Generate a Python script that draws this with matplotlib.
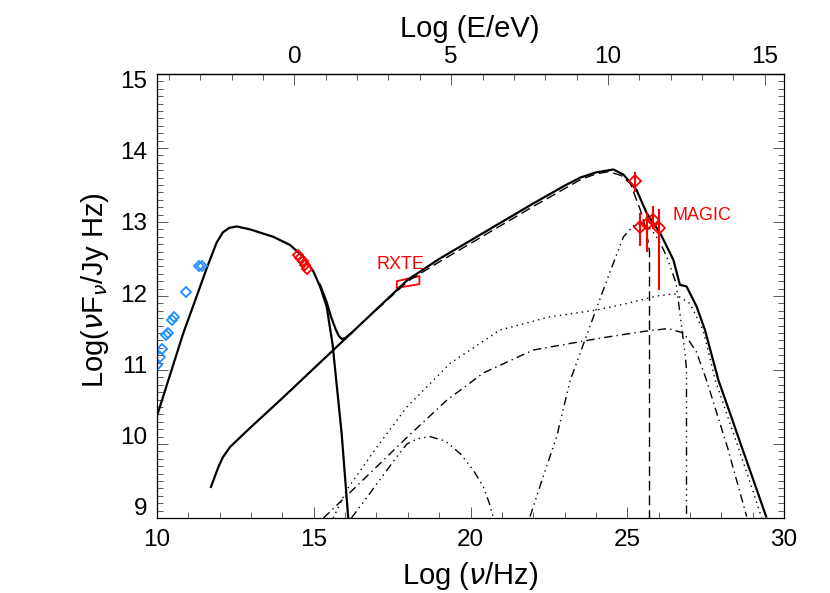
import matplotlib
matplotlib.use('Agg')
import matplotlib.pyplot as plt
import matplotlib.transforms as mtransforms
from matplotlib.ticker import MultipleLocator, FixedLocator

plt.rcParams['font.family'] = ['Liberation Sans', 'DejaVu Sans']

# log(h / eV s): Log(E/eV) = Log(nu/Hz) - 14.383
LOG_H = 14.383

## 模型曲线
# 同步辐射
sync_x = [10.0, 10.36, 10.84, 11.26, 11.59, 11.9, 12.1, 12.3, 12.54, 12.97, 13.71,
          14.24, 14.67, 14.99, 15.2, 15.41, 15.6, 15.89, 16.1]
sync_y = [10.38, 10.86, 11.5, 11.99, 12.38, 12.72, 12.86, 12.92, 12.94, 12.9, 12.8,
          12.69, 12.53, 12.33, 12.13, 11.86, 11.35, 10.14, 9.0]

# 总谱在 10^16 Hz 附近的凹陷
dip_x = [15.2, 15.41, 15.55, 15.7, 15.8, 15.89, 16.0, 16.2]
dip_y = [12.15, 11.92, 11.72, 11.55, 11.46, 11.42, 11.43, 11.5]

# 高能总谱
hi_x = [11.72, 11.96, 12.1, 12.33, 13.0, 14.0, 15.0, 16.0, 17.0, 18.0, 19.0,
        20.0, 21.0, 22.0, 23.0, 23.5, 24.0, 24.56, 24.88, 25.3, 25.62, 26.05,
        26.47, 26.68, 26.89, 27.21, 27.48, 27.91, 28.3, 28.66, 29.05, 29.43]
hi_y = [9.42, 9.69, 9.82, 9.96, 10.23, 10.62, 11.02, 11.42, 11.82, 12.22, 12.5,
        12.75, 13.0, 13.25, 13.49, 13.6, 13.67, 13.71, 13.64, 13.43, 13.12, 12.85,
        12.49, 12.15, 12.13, 11.86, 11.54, 10.86, 10.39, 9.95, 9.48, 9.02]

# 虚线分量
dash_x = [17.0, 18.0, 19.0, 20.0, 21.0, 22.0, 23.0, 23.5, 24.0, 24.4, 24.8,
          25.1, 25.42, 25.57, 25.66, 25.71, 25.71]
dash_y = [11.81, 12.2, 12.46, 12.71, 12.96, 13.21, 13.45, 13.57, 13.65, 13.68,
          13.63, 13.52, 13.16, 12.94, 12.75, 12.6, 8.9]

# 点线分量
dot_x = [15.62, 16.05, 17.0, 17.97, 19.35, 20.94, 22.54, 24.02, 25.0, 25.94,
         26.5, 27.0, 27.42, 27.81, 28.3, 28.8, 29.29]
dot_y = [9.0, 9.38, 9.95, 10.5, 11.09, 11.54, 11.72, 11.81, 11.9, 12.0,
         12.03, 11.9, 11.54, 10.86, 10.25, 9.63, 9.0]

# 点划线分量
dd_x = [15.31, 16.0, 17.0, 18.0, 19.24, 20.41, 22.0, 24.13, 25.5, 26.3, 26.8,
        27.2, 27.53, 28.2, 28.81]
dd_y = [9.0, 9.28, 9.69, 10.1, 10.59, 10.96, 11.27, 11.43, 11.52, 11.56, 11.5,
        11.25, 10.86, 9.95, 9.02]

# 三点划线分量
mu_x = [21.9, 22.35, 22.75, 23.18, 23.81, 24.4, 24.88, 25.2, 25.5, 25.8,
        26.05, 26.26, 26.56, 26.7, 26.85, 26.89, 26.89]
mu_y = [9.02, 9.6, 10.1, 10.86, 11.59, 12.27, 12.8, 12.95, 12.98, 12.88,
        12.72, 12.53, 12.17, 11.7, 11.2, 11.0, 8.9]

# X 射线处的小鼓包
bump_x = [16.2, 16.7, 17.2, 17.6, 17.97, 18.3, 18.71, 19.2, 19.67, 20.1,
          20.41, 20.6, 20.73]
bump_y = [9.0, 9.28, 9.57, 9.8, 10.0, 10.07, 10.1, 10.04, 9.87, 9.64,
          9.42, 9.2, 9.0]

## 观测数据
radio_x = [10.0, 10.08, 10.15, 10.3, 10.36, 10.48, 10.55, 10.92, 11.33, 11.45]
radio_y = [11.07, 11.17, 11.28, 11.47, 11.5, 11.68, 11.72, 12.05, 12.41, 12.40]

opt_x = [14.5, 14.57, 14.65, 14.72, 14.8]
opt_y = [12.55, 12.51, 12.47, 12.42, 12.37]

# RXTE 蝴蝶图 (左右两端的上下限)
rxte_x = [17.65, 18.37]
rxte_lo = [12.11, 12.16]
rxte_hi = [12.2, 12.27]

other_x = [25.25]
other_y = [13.56]
other_lo = [13.41]
other_hi = [13.67]

magic_x = [25.42, 25.62, 25.83, 26.0]
magic_y = [12.93, 12.97, 13.03, 12.92]
magic_lo = [12.67, 12.6, 12.9, 12.08]
magic_hi = [13.12, 13.14, 13.22, 13.18]

# 刻度
x_ticks = [10, 15, 20, 25, 30]
y_ticks = [9, 10, 11, 12, 13, 14, 15]
e_ticks = [0, 5, 10, 15]

blue = '#1e8fff'
red = '#ff0000'

# 开始画图
fig = plt.figure(figsize=(8.3, 5.93), dpi=100)
ax = fig.add_axes([157 / 830, 75 / 593, 627 / 830, 444 / 593])

# 模型分量
ax.plot(dash_x, dash_y, color='k', lw=1.0, linestyle=(0, (7, 3.5)))
ax.plot(dot_x, dot_y, color='k', lw=1.0, linestyle=(0, (1, 3)))
ax.plot(dd_x, dd_y, color='k', lw=1.0, linestyle=(0, (6, 3, 1, 3)))
ax.plot(mu_x, mu_y, color='k', lw=1.0, linestyle=(0, (6, 3, 1, 3, 1, 3, 1, 3)))
ax.plot(bump_x, bump_y, color='k', lw=1.0, linestyle=(0, (6, 3, 1, 3, 1, 3, 1, 3)))

# 总谱
ax.plot(sync_x, sync_y, color='k', lw=1.6)
ax.plot(dip_x, dip_y, color='k', lw=1.6)
ax.plot(hi_x, hi_y, color='k', lw=1.6)

# 数据点
ax.plot(radio_x, radio_y, 'D', ms=5.5, mfc='none', mec=blue, mew=1.3)
ax.plot(opt_x, opt_y, 'D', ms=5.5, mfc='none', mec=red, mew=1.3)

ax.fill_between(rxte_x, rxte_lo, rxte_hi, facecolor='none', edgecolor=red, lw=1.3)

for xs, ys, lo, hi in [(other_x, other_y, other_lo, other_hi),
                       (magic_x, magic_y, magic_lo, magic_hi)]:
    ax.vlines(xs, lo, hi, color=red, lw=1.5)
    ax.plot(xs, ys, 'D', ms=6, mfc='none', mec=red, mew=1.3)

ax.text(17.75, 12.42, 'RXTE', color=red, fontsize=13, ha='center', va='center')
ax.text(26.45, 13.09, 'MAGIC', color=red, fontsize=13, ha='left', va='center')

# 坐标范围
ax.set_xlim(10, 30)
ax.set_ylim(9, 15)
ax.set_xticks(x_ticks, labels=[str(v) for v in x_ticks])
ax.set_yticks(y_ticks, labels=[str(v) for v in y_ticks])
ax.xaxis.set_minor_locator(MultipleLocator(1))
ax.yaxis.set_minor_locator(MultipleLocator(0.1))

ax.tick_params(which='both', direction='in', top=False, right=True,
               width=0.7, color='0.35')
ax.tick_params(which='major', length=8, labelsize=17.5)
ax.tick_params(which='minor', length=4.5)
ax.tick_params(axis='x', pad=8)
ax.tick_params(axis='y', pad=7)

# IDL 风格: y 刻度标签间距略小于刻度间距
for lab, v in zip(ax.get_yticklabels(), y_ticks):
    dy = -(v - 13) * 2.8 / 100
    lab.set_transform(lab.get_transform() +
                      mtransforms.ScaledTranslation(0, dy, fig.dpi_scale_trans))

# 顶部能量坐标轴
top = ax.secondary_xaxis('top', functions=(lambda x: x - LOG_H, lambda e: e + LOG_H))
top.xaxis.set_major_locator(FixedLocator(e_ticks))
top.xaxis.set_minor_locator(MultipleLocator(1))
top.tick_params(which='both', direction='in', width=0.7, color='0.35')
top.tick_params(which='major', length=8, labelsize=17.5, pad=4)
top.tick_params(which='minor', length=4.5)

for sp in ax.spines.values():
    sp.set_linewidth(0.9)
top.spines['top'].set_linewidth(0.9)

# 坐标轴名称
fig.text(470 / 830, 1 - 576 / 593, r'Log ($\nu$/Hz)', fontsize=21, ha='center', va='center')
fig.text(470 / 830, 1 - 29 / 593, 'Log (E/eV)', fontsize=21, ha='center', va='center')
fig.text(95 / 830, 1 - 290 / 593, r'Log($\nu$F$_{\nu}$/Jy Hz)', fontsize=21,
         ha='center', va='center', rotation=90)

fig.savefig('out.png', dpi=100)
